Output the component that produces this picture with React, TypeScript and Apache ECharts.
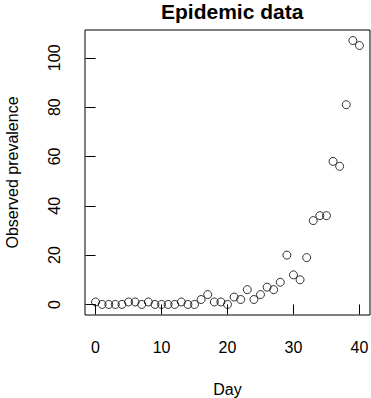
import React, { useEffect, useRef } from "react";
import * as echarts from "echarts";

const days = [0, 1, 2, 3, 4, 5, 6, 7, 8, 9, 10, 11, 12, 13, 14, 15, 16, 17, 18, 19, 20, 21, 22, 23, 24, 25, 26, 27, 28, 29, 30, 31, 32, 33, 34, 35, 36, 37, 38, 39, 40];
const prevalence = [1, 0, 0, 0, 0, 1, 1, 0, 1, 0, 0, 0, 0, 1, 0, 0, 2, 4, 1, 1, 0, 3, 2, 6, 2, 4, 7, 6, 9, 20, 12, 10, 19, 34, 36, 36, 58, 56, 81, 107, 105];
const xTicks = [0, 10, 20, 30, 40];
const yTicks = [0, 20, 40, 60, 80, 100];

const FONT = "Liberation Sans, Arial, Helvetica, sans-serif";

export default function App() {
  const ref = useRef<HTMLDivElement>(null);
  useEffect(() => {
    document.body.style.margin = "0";
    const chart = echarts.init(ref.current!, null, { renderer: "svg" });
    const data = days.map((d, i) => [d, prevalence[i]]);
    chart.setOption({
      animation: false,
      backgroundColor: "#ffffff",
      textStyle: { fontFamily: FONT },
      title: {
        text: "Epidemic data",
        left: 161,
        top: 1,
        padding: 0,
        textStyle: { fontFamily: FONT, fontSize: 21, fontWeight: "bold", color: "#000" },
      },
      grid: {
        left: 85, top: 30, right: 1, bottom: 83,
        containLabel: false, outerBoundsMode: "none",
        show: true, borderColor: "#000", borderWidth: 1, backgroundColor: "transparent",
      },
      xAxis: {
        type: "value",
        min: -1.6,
        max: 41.6,
        name: "Day",
        nameLocation: "middle",
        nameGap: 66,
        nameTextStyle: { fontFamily: FONT, fontSize: 16, color: "#000" },
        axisLine: { show: false },
        splitLine: { show: false },
        axisTick: { show: true, length: 10, inside: false, customValues: xTicks, lineStyle: { color: "#000", width: 1 } },
        axisLabel: { show: true, margin: 24, customValues: xTicks, fontFamily: FONT, fontSize: 16, color: "#000" },
      },
      yAxis: {
        type: "value",
        min: -4.28,
        max: 111.28,
        name: "Observed prevalence",
        nameLocation: "middle",
        nameGap: 65,
        nameTextStyle: { fontFamily: FONT, fontSize: 16, color: "#000" },
        axisLine: { show: false },
        splitLine: { show: false },
        axisTick: { show: true, length: 10, inside: false, customValues: yTicks, lineStyle: { color: "#000", width: 1 } },
        axisLabel: { show: true, rotate: 90, margin: 23, customValues: yTicks, fontFamily: FONT, fontSize: 16, color: "#000" },
      },
      series: [
        {
          type: "scatter",
          data,
          symbol: "circle",
          symbolSize: 8,
          itemStyle: { color: "rgba(0,0,0,0)", borderColor: "#000", borderWidth: 1 },
          emphasis: { disabled: true },
        },
      ],
    });
    return () => chart.dispose();
  }, []);
  return <div ref={ref} style={{ width: 371, height: 398 }} />;
}
